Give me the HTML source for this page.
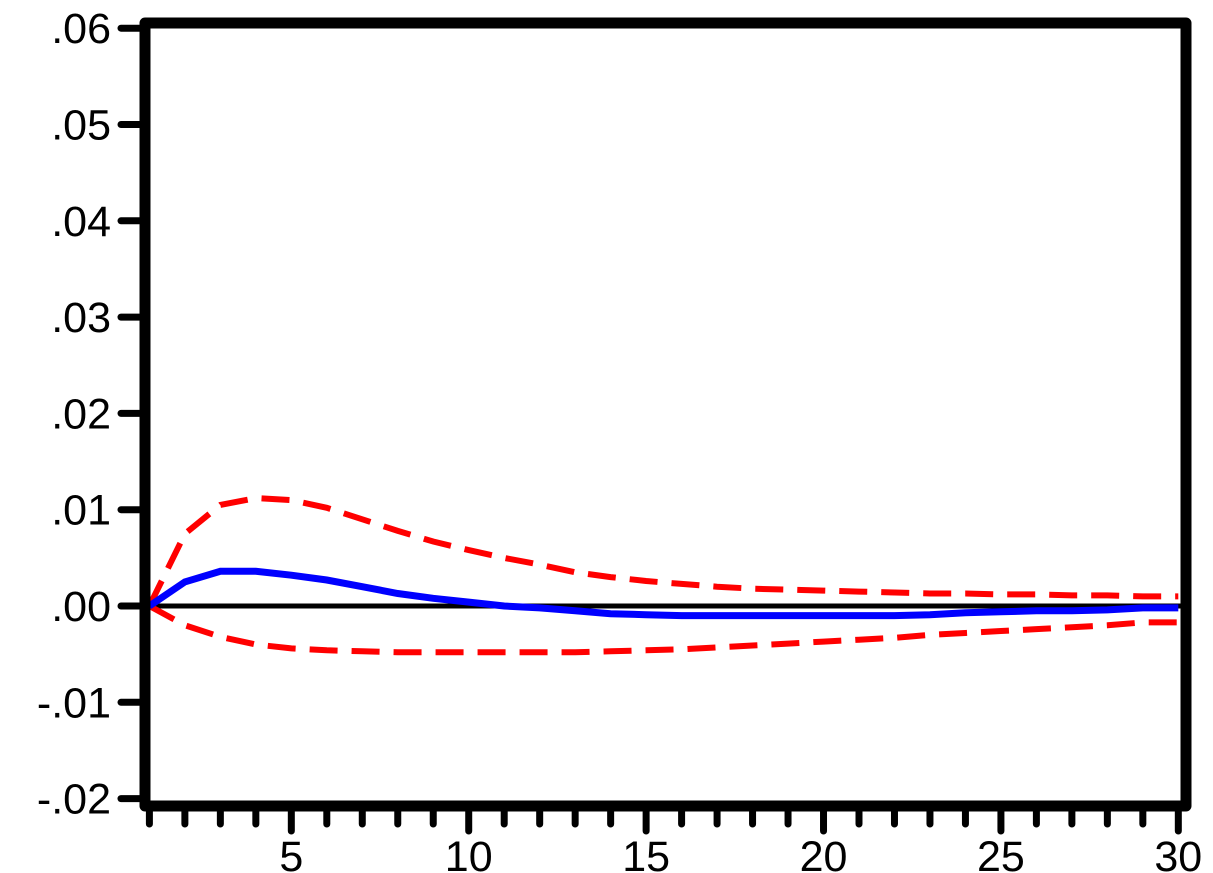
<!DOCTYPE html>
<html><head><meta charset="utf-8"><style>
html,body{margin:0;padding:0;background:#fff;width:1213px;height:873px;overflow:hidden}
text{font-family:"Liberation Sans",Arial,sans-serif;font-size:43px;fill:#000}
</style></head><body>
<svg id="chart" width="1213" height="873" viewBox="0 0 1213 873" xmlns="http://www.w3.org/2000/svg"></svg>
<script>
const periods=[1,2,3,4,5,6,7,8,9,10,11,12,13,14,15,16,17,18,19,20,21,22,23,24,25,26,27,28,29,30];
const response=[0,0.0025,0.0036,0.0036,0.0032,0.0027,0.002,0.0013,0.0008,0.0004,0,-0.0002,-0.0005,-0.0008,-0.0009,-0.001,-0.001,-0.001,-0.001,-0.001,-0.001,-0.001,-0.0009,-0.0007,-0.0006,-0.0005,-0.0005,-0.0004,-0.0002,-0.0002];
const upperBand=[0,0.0075,0.0105,0.0112,0.011,0.0102,0.009,0.0078,0.0067,0.0058,0.005,0.0043,0.0035,0.003,0.0026,0.0023,0.002,0.0018,0.0017,0.0016,0.0015,0.0014,0.0013,0.0013,0.0012,0.0012,0.0011,0.0011,0.001,0.001];
const lowerBand=[0,-0.002,-0.0032,-0.004,-0.0044,-0.0046,-0.0047,-0.0048,-0.0048,-0.0048,-0.0048,-0.0048,-0.0048,-0.0047,-0.0046,-0.0045,-0.0043,-0.0041,-0.0039,-0.0037,-0.0035,-0.0033,-0.003,-0.0028,-0.0026,-0.0024,-0.0022,-0.002,-0.0017,-0.0017];
const yTicks=[0.06,0.05,0.04,0.03,0.02,0.01,0,-0.01,-0.02];
const yTickLabels=[".06",".05",".04",".03",".02",".01",".00","-.01","-.02"];
const xTickLabels=[5,10,15,20,25,30];

const svg=document.getElementById('chart');
const NS='http://www.w3.org/2000/svg';
const X=v=>149.4+(v-1)*35.48;
const Y=v=>606-v*9630;
function mk(tag,attrs,parent){const e=document.createElementNS(NS,tag);for(const k in attrs)e.setAttribute(k,attrs[k]);(parent||svg).appendChild(e);return e;}

yTicks.forEach((t,i)=>{
  const l=mk('line',{x1:121,x2:145,y1:Y(t),y2:Y(t),stroke:'#000','stroke-width':7,'stroke-linecap':'round'});
  
  
  const tx=mk('text',{x:111,y:Y(t)+15,'text-anchor':'end'});
  tx.textContent=yTickLabels[i];
  
  
});
periods.forEach(p=>{
  const major=xTickLabels.includes(p);
  const l=mk('line',{x1:X(p),x2:X(p),y1:806,y2:major?831:824,stroke:'#000','stroke-width':7,'stroke-linecap':'round'});
  
  
});
xTickLabels.forEach(p=>{
  const tx=mk('text',{x:X(p),y:871,'text-anchor':'middle'});
  tx.textContent=String(p);
  
  
});
const z=mk('line',{x1:145,x2:1186,y1:Y(0),y2:Y(0),stroke:'#000','stroke-width':5});


function path(arr){return arr.map((v,i)=>(i?'L':'M')+X(periods[i]).toFixed(1)+','+Y(v).toFixed(1)).join(' ');}
const up=mk('path',{d:path(upperBand),fill:'none',stroke:'#ff0000','stroke-width':6,'stroke-dasharray':'28,14'});


const lo=mk('path',{d:path(lowerBand),fill:'none',stroke:'#ff0000','stroke-width':6,'stroke-dasharray':'28,14'});


const rs=mk('path',{d:path(response),fill:'none',stroke:'#0000ff','stroke-width':7});


const fr=mk('rect',{x:145,y:23,width:1041,height:783,fill:'none',stroke:'#000','stroke-width':11,'stroke-linejoin':'round'});


</script>
</body></html>
